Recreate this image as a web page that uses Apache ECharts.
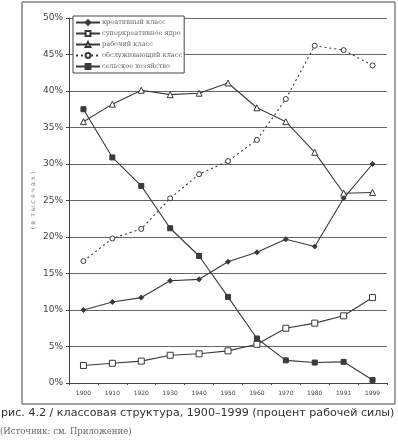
<!DOCTYPE html>
<html>
<head>
<meta charset="utf-8">
<script src="https://cdn.jsdelivr.net/npm/echarts@6/dist/echarts.min.js"></script>
<style>
  html, body { margin: 0; padding: 0; background: #fff; }
  #chart { width: 398px; height: 445px; }
</style>
</head>
<body>
<div id="chart"></div>
<script>
// years on the x axis
const years = ['1900', '1910', '1920', '1930', '1940', '1950', '1960', '1970', '1980', '1991', '1999'];

// shares of the workforce, percent
const creativeClass = [10.0, 11.1, 11.7, 14.0, 14.2, 16.6, 17.9, 19.7, 18.7, 25.3, 30.0];
const superCreativeCore = [2.4, 2.7, 3.0, 3.8, 4.0, 4.4, 5.3, 7.5, 8.2, 9.2, 11.7];
const workingClass = [35.8, 38.2, 40.1, 39.5, 39.7, 41.1, 37.7, 35.8, 31.6, 26.0, 26.1];
const serviceClass = [16.7, 19.8, 21.1, 25.3, 28.6, 30.4, 33.3, 38.9, 46.2, 45.6, 43.5];
const agriculture = [37.5, 30.9, 27.0, 21.2, 17.4, 11.8, 6.1, 3.1, 2.8, 2.9, 0.4];

const seriesNames = ['креативный класс', 'суперкреативное ядро', 'рабочий класс', 'обслуживающий класс', 'сельское хозяйство'];

const ink = '#3a3a3a';

function makeSeries(name, data, symbol, size, filled, dotted) {
    return {
        name: name,
        type: 'line',
        data: data,
        symbol: symbol,
        symbolSize: size,
        showAllSymbol: true,
        lineStyle: { color: ink, width: 1.1, type: dotted ? [2, 3] : 'solid' },
        itemStyle: { color: filled ? ink : '#fff', borderColor: ink, borderWidth: 1 },
        emphasis: { disabled: true },
        z: 3
    };
}

const chart = echarts.init(document.getElementById('chart'));
const options = {
    animation: false,
    backgroundColor: '#fff',
    grid: { left: 69, right: 11, top: 18, bottom: 62 },
    legend: {
        orient: 'vertical',
        left: 73,
        top: 16,
        padding: [2, 2, 2, 2],
        itemGap: 2,
        itemWidth: 24,
        itemHeight: 6,
        backgroundColor: '#fff',
        borderColor: '#444',
        borderWidth: 1,
        borderRadius: 0,
        textStyle: { fontFamily: 'DejaVu Serif', fontSize: 6.6, lineHeight: 9, color: '#666', padding: [0, 0, 0, -3] },
        data: seriesNames
    },
    xAxis: {
        type: 'category',
        data: years,
        boundaryGap: true,
        axisLine: { lineStyle: { color: '#444', width: 1 } },
        axisTick: { show: true, length: 2, lineStyle: { color: '#444' } },
        axisLabel: { fontFamily: 'DejaVu Sans', fontSize: 6, color: '#444', margin: 7 }
    },
    yAxis: {
        type: 'value',
        min: 0,
        max: 50,
        interval: 5,
        name: '( в  т ы с я ч а х )',
        nameLocation: 'middle',
        nameGap: 32,
        nameRotate: 90,
        nameMoveOverlap: false,
        nameTextStyle: { fontFamily: 'DejaVu Sans', fontSize: 6.5, color: '#888' },
        axisLine: { show: true, lineStyle: { color: '#444', width: 1 } },
        axisTick: { show: true, inside: false, length: 3, lineStyle: { color: '#444' } },
        axisLabel: { formatter: '{value}%', fontFamily: 'DejaVu Sans', fontSize: 9, color: '#444', margin: 6 },
        splitLine: { show: true, lineStyle: { color: '#666', width: 1.2 } }
    },
    series: [
        makeSeries(seriesNames[0], creativeClass, 'diamond', 5, true, false),
        makeSeries(seriesNames[1], superCreativeCore, 'rect', 6, false, false),
        makeSeries(seriesNames[2], workingClass, 'triangle', 6, false, false),
        makeSeries(seriesNames[3], serviceClass, 'circle', 5, false, true),
        makeSeries(seriesNames[4], agriculture, 'rect', 5, true, false)
    ],
    graphic: [
        {
            type: 'rect',
            shape: { x: 22, y: 2, width: 373, height: 402 },
            style: { fill: 'none', stroke: '#444', lineWidth: 1 },
            silent: true,
            z: -1
        },
        {
            type: 'text',
            left: 1,
            top: 408,
            style: {
                text: 'рис. 4.2 / классовая структура, 1900–1999 (процент рабочей силы)',
                font: '11.1px "DejaVu Sans"',
                fill: '#333'
            }
        },
        {
            type: 'text',
            left: 0,
            top: 427,
            style: {
                text: '(Источник: см. Приложение)',
                font: '8.5px "DejaVu Serif"',
                fill: '#666'
            }
        }
    ]
};

chart.setOption(options);
</script>
</body>
</html>
